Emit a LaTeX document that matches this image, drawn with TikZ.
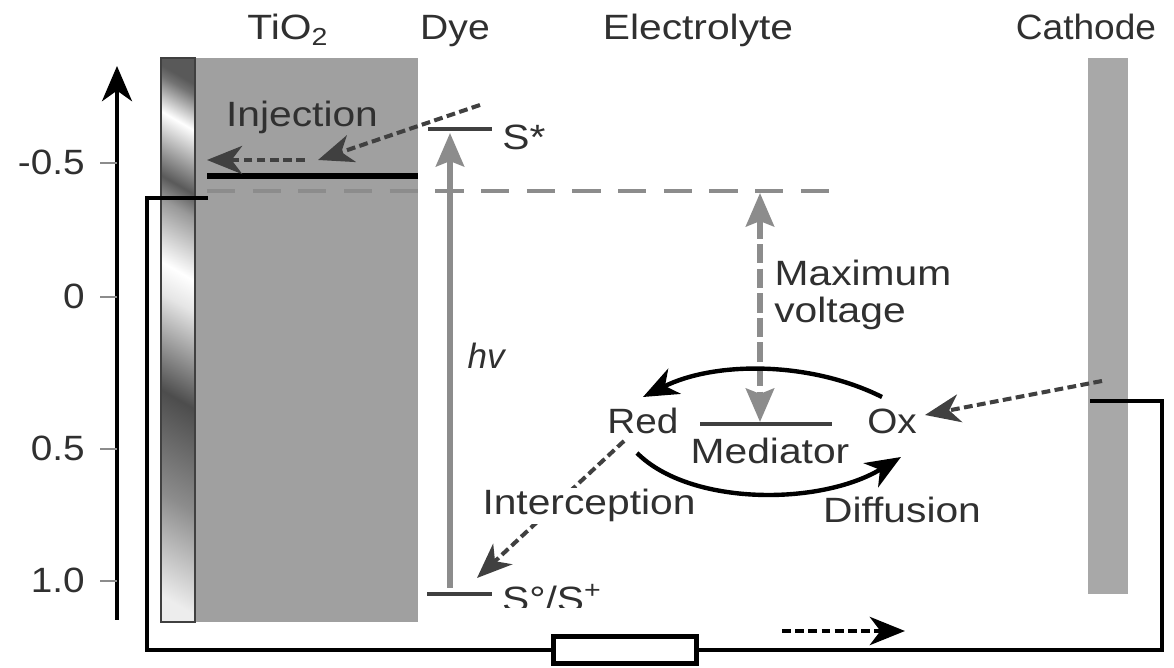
\documentclass[tikz,border=0pt]{standalone}
\usepackage{fontspec}
\setmainfont{Liberation Sans}
\usetikzlibrary{positioning,arrows.meta}
\definecolor{ink}{HTML}{303030}
\definecolor{darkdash}{HTML}{404040}
\definecolor{midgray}{HTML}{8C8C8C}
\definecolor{oxidegray}{HTML}{A0A0A0}
\definecolor{cathodegray}{HTML}{A8A8A8}
\pgfdeclareverticalshading{stripshade}{100bp}{color(0bp)=(black!7); color(18.75bp)=(black!7);
  color(30.9bp)=(black!45); color(43bp)=(black!70); color(54.4bp)=(black!10); color(58.1bp)=(white);
  color(65.5bp)=(black!40); color(68.25bp)=(black!65); color(75.8bp)=(white); color(80bp)=(black!55);
  color(81.25bp)=(black!65); color(100bp)=(black!65)}
\tikzset{
  lbl/.style={font=\fontsize{20}{24}\selectfont, text=ink, inner sep=0pt, anchor=base, xscale=1.16, transform shape},
  ticklbl/.style={lbl, anchor=base east, xscale=0.95},
  wire/.style={line width=2.5pt, black},
  tickmark/.style={line width=1.2pt, midgray},
  level/.style={line width=1.9pt, darkdash},
  bigtip/.tip={Stealth[length=20pt,width=16pt,inset=6pt]},
  graytip/.tip={Stealth[length=19pt,width=16pt,inset=3pt]},
  darrow/.style={line width=2.3pt, darkdash, dash pattern=on 5pt off 2.5pt, -{bigtip}},
  curve/.style={line width=2.5pt, black, -{bigtip}}
}
\begin{document}
\begin{tikzpicture}[x=0.02cm,y=-0.02cm]
  \useasboundingbox (0,0) rectangle (1174,668);
  % electrodes
  \fill[oxidegray] (195,58) rectangle (418,622);
  \fill[cathodegray] (1088,58) rectangle (1128,594);
  \shade[shading=stripshade, shading angle=-30] (161,58) rectangle (195,622);
  \draw[line width=1.2pt, black!75] (161,58) rectangle (195,622);
  % headers
  \node[lbl] (oxide) at (288,40) {TiO\textsubscript{2}};
  \node[lbl, xscale=0.96] (dye) at (455,40) {Dye};
  \node[lbl] (electrolyte) at (698,40) {Electrolyte};
  \node[lbl, xscale=0.91] (cathode) at (1086,40) {Cathode};
  % energy axis
  \coordinate (axisbot) at (117,620);
  \coordinate (axistop) at (117,66);
  \draw[line width=2.6pt, -{Stealth[length=20pt,width=17pt,inset=6pt]}] (axisbot) -- (axistop);
  \foreach \ypos/\txt/\ybase in {163/-0.5/175, 297/0/309, 449/0.5/461, 581/1.0/593}{
    \draw[tickmark] (100,\ypos) -- (117,\ypos);
    \node[ticklbl] at (85,\ybase) {\txt};
  }
  % levels
  \coordinate (cbL) at (207,176);
  \coordinate (cbR) at (418,176);
  \coordinate (fermiL) at (207,191);
  \coordinate (fermiR) at (832,191);
  \coordinate (sstarL) at (428,129);
  \coordinate (sstarR) at (492,129);
  \coordinate (sgroundL) at (427,594);
  \coordinate (sgroundR) at (492,594);
  \coordinate (medL) at (700,424);
  \coordinate (medR) at (832,424);
  \draw[line width=3.6pt, black] (cbL) -- (cbR);
  \draw[line width=2.4pt, midgray, dash pattern=on 16pt off 10pt] (fermiL) -- (fermiR);
  \draw[level] (sstarL) -- (sstarR);
  \draw[level] (sgroundL) -- (sgroundR);
  \draw[level] (medL) -- (medR);
  % labels
  \node[lbl] (sstar) at (524,150) {S*};
  \begin{scope}
    \clip (490,570) rectangle (620,608);
    \node[lbl] (sground) at (552,612) {S°/S\textsuperscript{+}};
  \end{scope}
  \node[lbl, xscale=0.86] (hv) at (487,369) {\textit{hv}};
  \node[lbl] (maximum) at (863,286) {Maximum};
  \node[lbl] (voltage) at (840,323) {voltage};
  \node[lbl, xscale=0.95] (red) at (643,434) {Red};
  \node[lbl, xscale=0.95] (ox) at (892,434) {Ox};
  \node[lbl] (mediator) at (770,464) {Mediator};
  \node[lbl] (diffusion) at (902,523) {Diffusion};
  % excitation and voltage
  \coordinate (hvbot) at (450,588);
  \coordinate (hvtop) at (450,133);
  \coordinate (vtop) at (760,193);
  \coordinate (vbot) at (760,422);
  \draw[line width=3.2pt, midgray, -{graytip}] (hvbot) -- (hvtop);
  \draw[line width=3.2pt, midgray, dash pattern=on 11pt off 3pt, {graytip}-{graytip}] (vtop) -- (vbot);
  % electron paths
  \coordinate (dyestart) at (480,105);
  \coordinate (injtip) at (318,160);
  \coordinate (injstart) at (305,160);
  \coordinate (injend) at (207,160);
  \coordinate (catstart) at (1102,381);
  \coordinate (oxtip) at (925,415);
  \coordinate (redfoot) at (624,441);
  \coordinate (sgtip) at (477,578);
  \coordinate (oxtop) at (882,397);
  \coordinate (redtop) at (643,397);
  \coordinate (redlow) at (637,453);
  \coordinate (oxlow) at (901,457);
  \draw[darrow] (dyestart) -- (injtip);
  \draw[darrow] (injstart) -- (injend);
  \draw[darrow] (catstart) -- (oxtip);
  \draw[darrow] (redfoot) -- (sgtip);
  \node[lbl, fill=white, inner sep=1pt] (interception) at (589,515) {Interception};
  \draw[curve] (oxtop) .. controls (810,361) and (715,361) .. (redtop);
  \draw[curve] (redlow) .. controls (690,506) and (820,506) .. (oxlow);
  \node[lbl, text=ink] (injection) at (302,127) {Injection};
  % external circuit
  \node[draw, line width=2.8pt, fill=white, minimum width=2.85cm, minimum height=0.54cm, inner sep=0pt] (load) at (625,650) {};
  \coordinate (tioend) at (208,198);
  \coordinate (catend) at (1090,401);
  \coordinate (currentstart) at (782,631);
  \coordinate (currentend) at (905,631);
  \draw[wire] (tioend) -- (147,198) |- (load.west);
  \draw[wire] (load.east) -- (1162,650) |- (catend);
  \draw[line width=2.8pt, black, dash pattern=on 5pt off 2.5pt, -{bigtip}] (currentstart) -- (currentend);
\end{tikzpicture}
\end{document}
